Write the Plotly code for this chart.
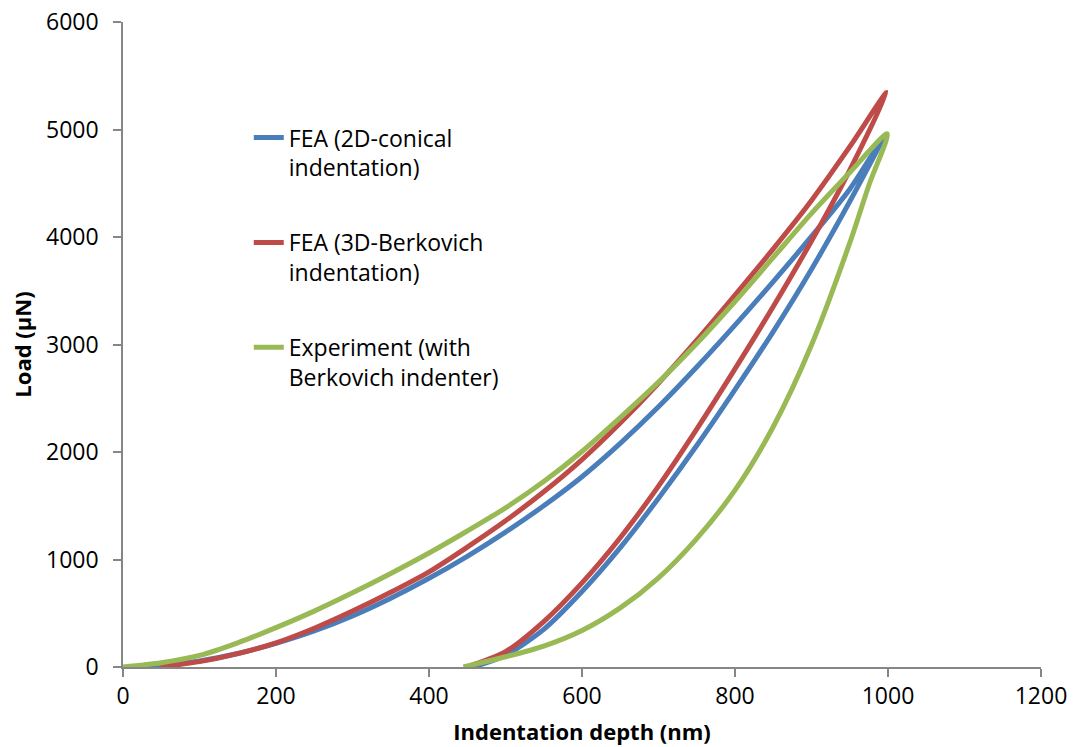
import plotly.graph_objects as go

# FEA (2D-conical indentation): loading then unloading
blue_x = [18, 50, 100, 150, 200, 250, 300, 350, 400, 450, 500, 550, 600, 650, 700, 750, 800, 850, 900, 950, 994,
          950, 900, 850, 800, 750, 700, 650, 600, 550, 500, 458]
blue_y = [0, 12, 55, 125, 220, 335, 475, 640, 825, 1030, 1255, 1500, 1770, 2080, 2420, 2790, 3180, 3585, 4005, 4445, 4928,
          4330, 3700, 3120, 2580, 2060, 1570, 1110, 702, 350, 110, 0]

# FEA (3D-Berkovich indentation)
red_x = [48, 100, 150, 200, 250, 300, 350, 400, 450, 500, 550, 600, 650, 700, 750, 800, 850, 900, 950, 998,
         950, 900, 850, 800, 750, 700, 650, 600, 550, 500, 449]
red_y = [0, 50, 125, 224, 360, 520, 695, 885, 1115, 1360, 1630, 1930, 2270, 2640, 3040, 3460, 3890, 4340, 4840, 5345,
         4623, 3963, 3353, 2773, 2213, 1683, 1203, 783, 423, 143, 0]

# Experiment (with Berkovich indenter)
green_x = [0, 50, 100, 150, 200, 250, 300, 350, 400, 450, 500, 550, 600, 650, 700, 750, 800, 850, 900, 950, 999,
           975, 950, 900, 850, 800, 750, 700, 650, 600, 550, 500, 445]
green_y = [0, 40, 108, 225, 366, 520, 690, 870, 1060, 1265, 1480, 1725, 2005, 2320, 2650, 3010, 3400, 3810, 4220, 4600, 4960,
           4482, 3945, 2995, 2235, 1645, 1195, 830, 550, 340, 195, 95, 0]

names = ["FEA (2D-conical<br>indentation)",
         "FEA (3D-Berkovich<br>indentation)",
         "Experiment (with<br>Berkovich indenter)"]
colors = ["#4A7EBB", "#BE4B48", "#98B954"]

x_ticks = [0, 200, 400, 600, 800, 1000, 1200]
y_ticks = [0, 1000, 2000, 3000, 4000, 5000, 6000]

FONT = "Open Sans"

fig = go.Figure()
for i, (xs, ys) in enumerate([(blue_x, blue_y), (red_x, red_y), (green_x, green_y)]):
    fig.add_trace(go.Scatter(
        x=xs, y=ys, mode="lines", name=names[i], legendgroup=str(i),
        line=dict(color=colors[i], width=5, shape="spline", smoothing=0.8),
    ))

axis_common = dict(
    showgrid=False, zeroline=False, showline=True, linecolor="#868686", linewidth=1.5,
    ticks="outside", ticklen=8, tickcolor="#868686", tickwidth=1.5, automargin=False,
    tickfont=dict(family=FONT, size=23, color="#000000"),
)

fig.update_layout(
    width=1075, height=747,
    margin=dict(l=123, r=34, t=22, b=80),
    paper_bgcolor="white", plot_bgcolor="white",
    font=dict(family=FONT, color="#000000"),
    xaxis=dict(range=[0, 1200], tickvals=x_ticks, ticktext=[str(v) for v in x_ticks],
               title=dict(text="<b>Indentation depth (nm)</b>", font=dict(family=FONT, size=22), standoff=14),
               **axis_common),
    yaxis=dict(range=[0, 6000], tickvals=y_ticks, ticktext=[str(v) for v in y_ticks],
               ticklabelstandoff=10,
               title=dict(text="<b>Load (μN)</b>", font=dict(family=FONT, size=22), standoff=8),
               **axis_common),
    legend=dict(x=0.137, y=0.854, xanchor="left", yanchor="top",
                font=dict(family=FONT, size=23), valign="top",
                tracegroupgap=42, bgcolor="rgba(0,0,0,0)"),
    showlegend=True,
)

fig.write_html("out.html")
